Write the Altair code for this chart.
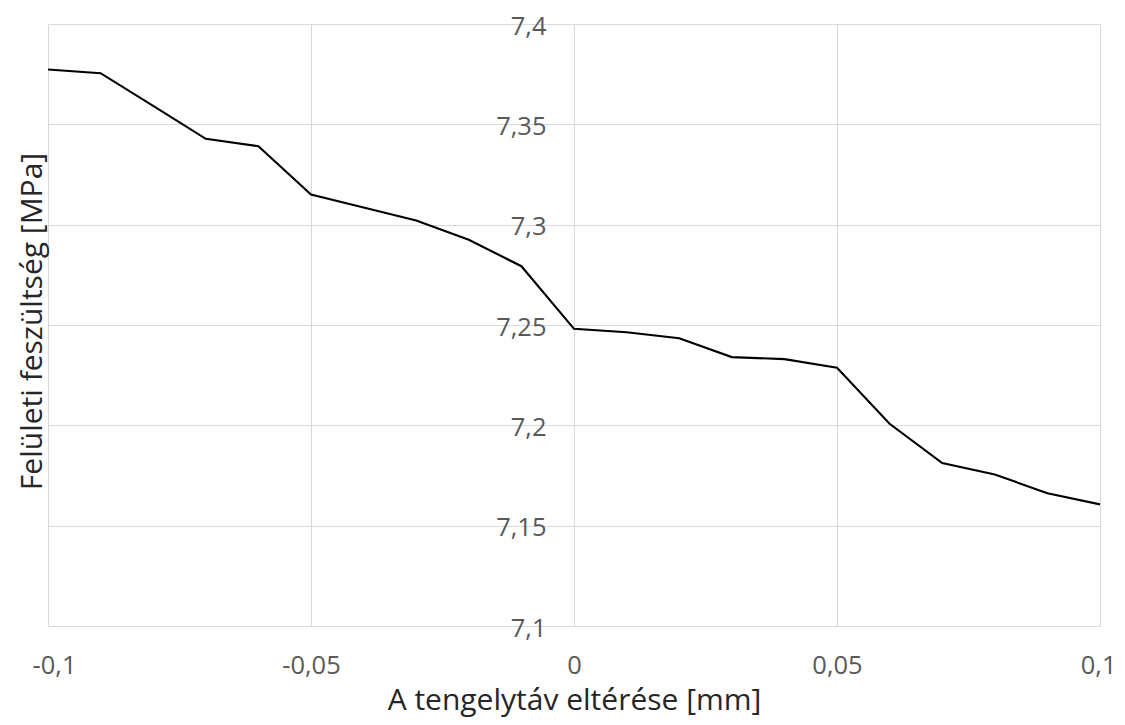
import altair as alt
import pandas as pd

x_vals = [-0.1, -0.09, -0.08, -0.07, -0.06, -0.05, -0.04, -0.03, -0.02, -0.01,
          0.0, 0.01, 0.02, 0.03, 0.04, 0.05, 0.06, 0.07, 0.08, 0.09, 0.1]
y_vals = [7.3773, 7.3755, 7.3592, 7.3428, 7.3391, 7.3150, 7.3086, 7.3021, 7.2925, 7.2793,
          7.2481, 7.2464, 7.2434, 7.2340, 7.2330, 7.2287, 7.2008, 7.1812, 7.1755, 7.1662, 7.1606]

x_ticks = [-0.1, -0.05, 0, 0.05, 0.1]
y_ticks = [7.1, 7.15, 7.2, 7.25, 7.3, 7.35, 7.4]

x_title = "A tengelytáv eltérése [mm]"
y_title = "Felületi feszültség [MPa]"

df = pd.DataFrame({"x": x_vals, "y": y_vals})

FONT = "Open Sans"
W, H = 1052, 602

chart = alt.Chart(df).mark_line(color="#000000", strokeWidth=2.1).encode(
    x=alt.X("x:Q",
            scale=alt.Scale(domain=[-0.1, 0.1], nice=False, zero=False),
            axis=alt.Axis(values=x_ticks, title=x_title,
                          labelExpr="replace(toString(datum.value), '.', ',')",
                          grid=True, gridColor="#d9d9d9", gridWidth=1,
                          domain=False, ticks=False,
                          labelFlush=True, labelFlushOffset=16,
                          labelFont=FONT, labelFontSize=25.5, labelColor="#595959",
                          labelPadding=27,
                          titleFont=FONT, titleFontSize=30, titleFontWeight="normal",
                          titleColor="#262626", titleX=W / 2, titleY=83,
                          titleAlign="center", titleBaseline="alphabetic")),
    y=alt.Y("y:Q",
            scale=alt.Scale(domain=[7.1, 7.4], nice=False, zero=False),
            axis=alt.Axis(values=y_ticks, title=y_title,
                          labelExpr="replace(toString(datum.value), '.', ',')",
                          grid=True, gridColor="#d9d9d9", gridWidth=1,
                          domain=False, ticks=False, offset=-526,
                          labelFont=FONT, labelFontSize=25.5, labelColor="#595959",
                          labelPadding=28, labelBaseline="middle", labelOffset=2,
                          labelFlush=False,
                          titleFont=FONT, titleFontSize=30, titleFontWeight="normal",
                          titleColor="#262626", titleX=-542, titleY=H / 2 - 4,
                          titleAlign="center", titleBaseline="middle", titleAngle=-90)),
).properties(
    width=W, height=H,
    autosize=alt.AutoSizeParams(type="none"),
    padding={"left": 40, "top": 16, "right": 17, "bottom": 91},
).configure_view(stroke=None)

chart.save("out.html", embed_options={"renderer": "svg", "actions": False})
